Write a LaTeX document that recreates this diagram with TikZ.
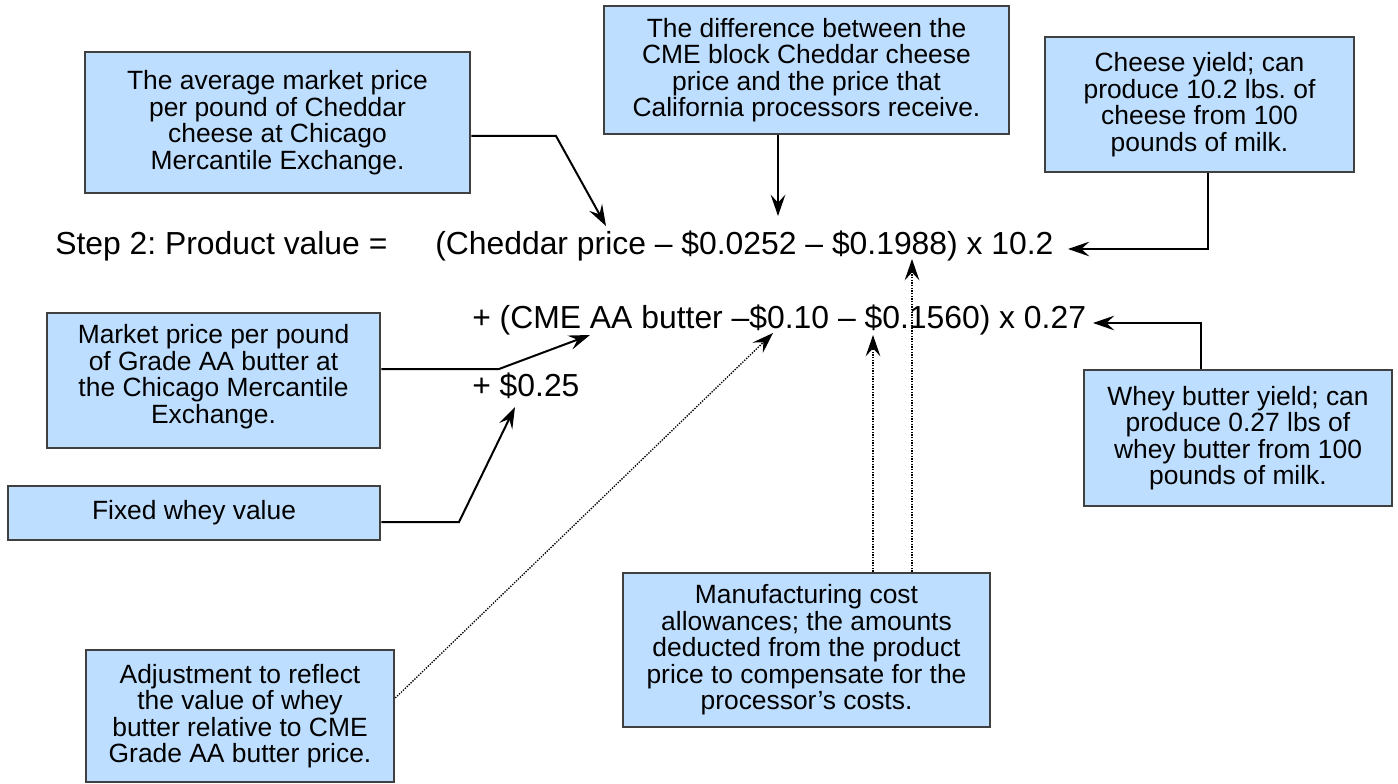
\documentclass[tikz,border=0pt]{standalone}
\usepackage{fontspec}
\setmainfont{Liberation Sans}
\usetikzlibrary{arrows.meta}
\definecolor{boxfill}{RGB}{190,222,255}
\definecolor{boxline}{RGB}{64,64,64}
\frenchspacing
\begin{document}
\begin{tikzpicture}[x=0.75pt,y=-0.75pt,
  box/.style={draw=boxline, fill=boxfill, line width=1.9pt, inner sep=0pt, align=center,
    font=\fontsize{19.8pt}{19.9pt}\selectfont},
  conn/.style={line width=1.5pt, -{Stealth[length=16pt,width=11pt,inset=6pt]}},
  dotconn/.style={line width=1pt, dash pattern=on 1pt off 1pt, -{Stealth[length=16pt,width=11pt,inset=6pt]}},
  ftext/.style={anchor=base west, inner sep=0pt, font=\fontsize{23.9pt}{28pt}\selectfont}]
\useasboundingbox (0,0) rectangle (1398,784);
% boxes
\node[box, minimum width=385*0.75pt, minimum height=141*0.75pt] (A) at (277.5,122.5)
  {The average market price\\per pound of Cheddar\\cheese at Chicago\\Mercantile Exchange.};
\node[box, minimum width=405*0.75pt, minimum height=128*0.75pt] (B) at (806.5,70)
  {The difference between the\\CME block Cheddar cheese\\price and the price that\\California processors receive.};
\node[box, minimum width=309*0.75pt, minimum height=135*0.75pt] (Ch) at (1199.5,104.5)
  {Cheese yield; can\\produce 10.2 lbs. of\\cheese from 100\\pounds of milk.};
\node[box, minimum width=333*0.75pt, minimum height=135*0.75pt] (C) at (213.5,380.5)
  {Market price per pound\\of Grade AA butter at\\the Chicago Mercantile\\Exchange.\\[-10pt]\mbox{}};
\node[box, minimum width=372*0.75pt, minimum height=54*0.75pt] (D) at (194,513)
  {Fixed whey value};
\node[box, minimum width=308*0.75pt, minimum height=136*0.75pt] (W) at (1238,438)
  {Whey butter yield; can\\produce 0.27 lbs of\\whey butter from 100\\pounds of milk.};
\node[box, minimum width=308*0.75pt, minimum height=132*0.75pt] (Adj) at (240,716)
  {Adjustment to reflect\\the value of whey\\butter relative to CME\\Grade AA butter price.};
\node[box, minimum width=367*0.75pt, minimum height=154*0.75pt] (M) at (806.5,650)
  {Manufacturing cost\\allowances; the amounts\\deducted from the product\\price to compensate for the\\processor’s costs.};
% formula
\node[ftext] (step) at (55,254) {Step 2: Product value =};
\node[ftext] (l1) at (435,254) {(Cheddar price – \$0.0252 – \$0.1988) x 10.2};
\node[ftext] (l2) at (472,328) {+ (CME AA butter –\$0.10 – \$0.1560) x 0.27};
\node[ftext] (l3) at (472,396) {+ \$0.25};
% coordinates
\coordinate (bA) at (556,136);
\coordinate (tA) at (606,226);
\coordinate (tB) at (778,216);
\coordinate (cC) at (1208,249);
\coordinate (tC) at (1068,249);
\coordinate (cW) at (1201,323);
\coordinate (tW) at (1093,323);
\coordinate (bC) at (499,369);
\coordinate (tCb) at (590,335);
\coordinate (bD) at (459,522);
\coordinate (tD) at (515,407);
\coordinate (sAdj) at (394,698);
\coordinate (tAdj) at (773,333);
\coordinate (tM1) at (873,335);
\coordinate (tM2) at (912,259);
% connectors
\draw[conn] (A.east |- bA) -- (bA) -- (tA);
\draw[conn] (B.south -| tB) -- (tB);
\draw[conn] (Ch.south -| cC) -- (cC) -- (tC);
\draw[conn] (W.north -| cW) -- (cW) -- (tW);
\draw[conn] (C.east |- bC) -- (bC) -- (tCb);
\draw[conn] (D.east |- bD) -- (bD) -- (tD);
\draw[dotconn] (Adj.east |- sAdj) -- (tAdj);
\draw[dotconn] (M.north -| tM1) -- (tM1);
\draw[dotconn] (M.north -| tM2) -- (tM2);
\end{tikzpicture}
\end{document}
